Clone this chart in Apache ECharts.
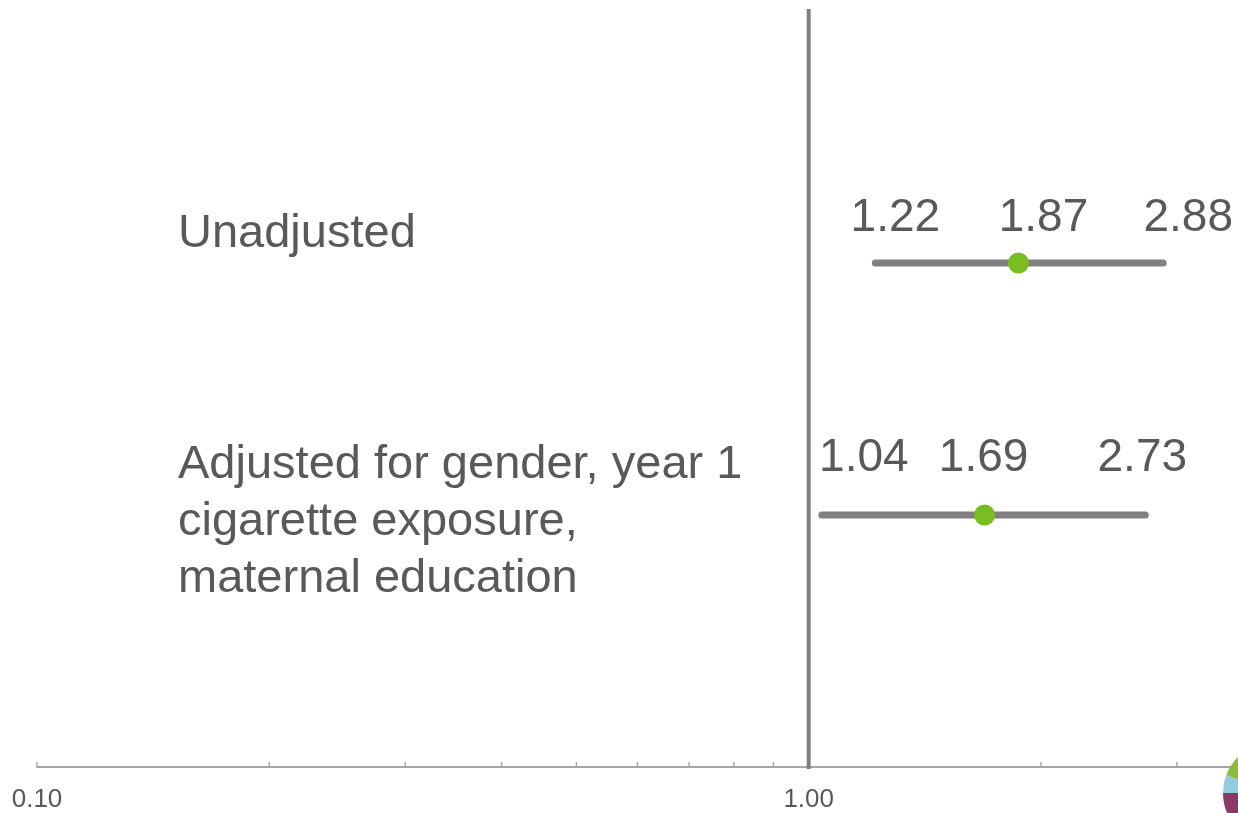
<!DOCTYPE html>
<html>
<head>
<meta charset="utf-8">
<script src="https://cdn.jsdelivr.net/npm/echarts@6/dist/echarts.min.js"></script>
<style>
  html, body { margin: 0; padding: 0; background: #ffffff; }
  #chart { width: 1238px; height: 813px; }
</style>
</head>
<body>
<div id="chart"></div>
<script>
// Odds ratios with 95% confidence intervals
const rows = ['Unadjusted', 'Adjusted for gender, year 1\ncigarette exposure,\nmaternal education'];
const rowPos = [2, 1];
const lower = [1.22, 1.04];
const estimate = [1.87, 1.69];
const upper = [2.88, 2.73];

// Log axis tick marks and labels
const xTickValues = [0.1, 1];
const xTickLabels = ['0.10', '1.00'];
const xMinorTicks = [0.2, 0.3, 0.4, 0.5, 0.6, 0.7, 0.8, 0.9, 2, 3];

// Nudges (px) for the value labels of each row: lower, estimate, upper
const labelShiftX = [[20, 25, 25], [42, -1, -3]];
const labelShiftY = [-45, -57];

const FONT = '"Liberation Sans", Arial, sans-serif';
const TEXT = '#58595b';
const GREY = '#808080';
const GREEN = '#78be20';

const chart = echarts.init(document.getElementById('chart'), null, { renderer: 'canvas' });

const series = [];

// Reference line at OR = 1
series.push({
  type: 'line',
  data: [[1, 0], [1, 3]],
  symbol: 'none',
  silent: true,
  lineStyle: { color: GREY, width: 4, cap: 'square' },
  z: 3
});

// Minor ticks on the log axis
series.push({
  type: 'custom',
  silent: true,
  clip: false,
  data: xMinorTicks.map(v => [v, 0]),
  renderItem: function (params, api) {
    const p = api.coord([api.value(0), 0]);
    return {
      type: 'line',
      shape: { x1: p[0], y1: p[1], x2: p[0], y2: p[1] - 5 },
      style: { stroke: '#a6a6a6', lineWidth: 1.5 }
    };
  },
  z: 2
});

rows.forEach((name, i) => {
  // Confidence interval bar
  series.push({
    type: 'line',
    data: [[lower[i], rowPos[i]], [upper[i], rowPos[i]]],
    symbol: 'none',
    silent: true,
    lineStyle: { color: GREY, width: 7, cap: 'round' },
    z: 4
  });
  // Point estimate
  series.push({
    type: 'scatter',
    data: [[estimate[i], rowPos[i]]],
    symbol: 'circle',
    symbolSize: 21,
    itemStyle: { color: GREEN, opacity: 1 },
    silent: true,
    z: 5
  });
  // Value labels above the bar
  const vals = [lower[i], estimate[i], upper[i]];
  series.push({
    type: 'scatter',
    symbolSize: 0,
    silent: true,
    itemStyle: { opacity: 1 },
    data: vals.map((v, k) => ({
      value: [v, rowPos[i]],
      label: {
        show: true,
        position: 'inside',
        offset: [labelShiftX[i][k], labelShiftY[i]],
        formatter: v.toFixed(2),
        fontSize: 46,
        fontFamily: FONT,
        color: TEXT,
        opacity: 1
      }
    })),
    z: 6
  });
});

chart.setOption({
  animation: false,
  backgroundColor: '#ffffff',
  grid: { left: 37, right: 0, top: 11, bottom: 46, containLabel: false },
  xAxis: {
    type: 'log',
    logBase: 10,
    min: 0.1,
    max: 3.6,
    axisLine: { show: true, lineStyle: { color: '#a6a6a6', width: 2 } },
    axisTick: { show: true, inside: true, length: 5, lineStyle: { color: '#a6a6a6', width: 1.5 } },
    splitLine: { show: false },
    minorTick: { show: false },
    axisLabel: {
      show: true,
      showMaxLabel: false,
      margin: 20,
      fontSize: 26,
      fontFamily: FONT,
      color: TEXT,
      formatter: function (v) {
        for (let k = 0; k < xTickValues.length; k++) {
          if (Math.abs(v - xTickValues[k]) < 1e-9) return xTickLabels[k];
        }
        return '';
      }
    }
  },
  yAxis: {
    type: 'value',
    min: 0,
    max: 3,
    interval: 1,
    axisLine: { show: false },
    axisTick: { show: false },
    splitLine: { show: false },
    axisLabel: {
      inside: true,
      margin: 141,
      fontSize: 47,
      lineHeight: 57,
      fontFamily: FONT,
      color: TEXT,
      align: 'left',
      formatter: function (v) {
        const idx = rowPos.indexOf(v);
        if (idx < 0) return '';
        if (idx === 0) return '{up|' + rows[idx] + '}';
        return rows[idx].split('\n').map(s => '{dn|' + s + '}').join('\n');
      },
      rich: {
        up: { fontSize: 47, lineHeight: 57, fontFamily: FONT, color: TEXT, padding: [0, 0, 72, 0] },
        dn: { fontSize: 47, lineHeight: 57, fontFamily: FONT, color: TEXT }
      },
      padding: [14, 0, 0, 0]
    }
  },
  graphic: [
    // Round emblem partly off the bottom-right corner
    { type: 'sector', silent: true, shape: { cx: 1274, cy: 793, r: 51, startAngle: 1.6, endAngle: Math.PI }, style: { fill: '#8b3a66' }, z: 10 },
    { type: 'sector', silent: true, shape: { cx: 1274, cy: 793, r: 51, startAngle: Math.PI, endAngle: 3.5 }, style: { fill: '#93cddd' }, z: 10 },
    { type: 'sector', silent: true, shape: { cx: 1274, cy: 793, r: 51, startAngle: 3.5, endAngle: 4.8 }, style: { fill: '#8dbb3a' }, z: 10 },
    { type: 'sector', silent: true, shape: { cx: 1274, cy: 793, r: 38, startAngle: 2.5, endAngle: 2.95 }, style: { fill: '#5b2c5e' }, z: 11 }
  ],
  series: series
});
</script>
</body>
</html>
